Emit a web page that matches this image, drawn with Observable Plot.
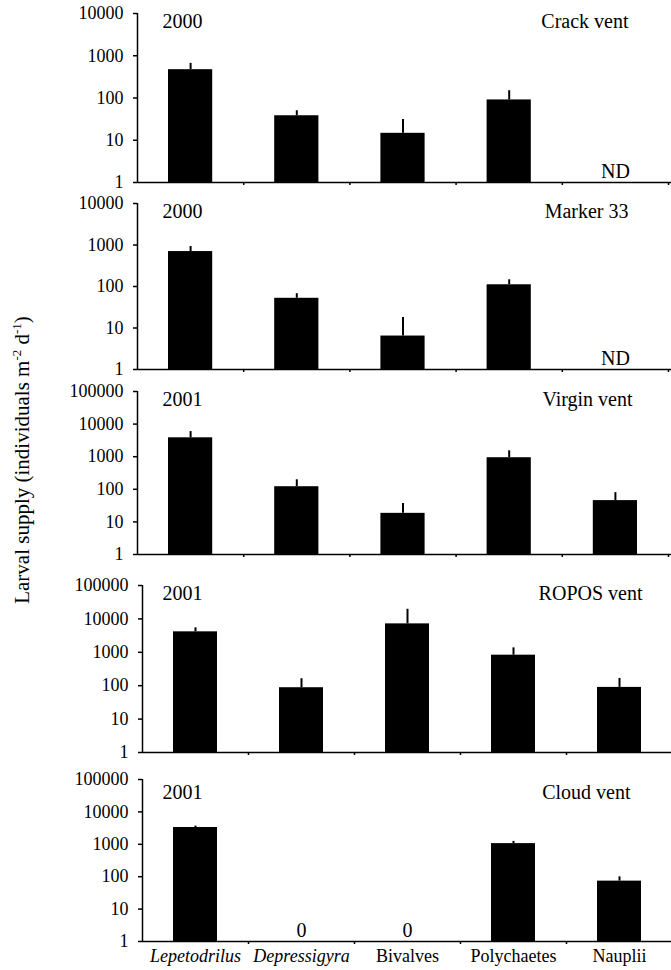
<!DOCTYPE html>
<html>
<head>
<meta charset="utf-8">
<script src="https://cdn.jsdelivr.net/npm/d3@7"></script>
<script src="https://cdn.jsdelivr.net/npm/@observablehq/plot@0.6"></script>
<style>
  html, body { margin: 0; padding: 0; background: #fff; }
  #chart { position: relative; width: 671px; height: 970px; overflow: hidden; font-family: "Liberation Serif", "Times New Roman", serif; }
  .panel { position: absolute; left: 0; }
  #ylabel { position: absolute; left: 22px; top: 460px; transform: translate(-50%, -50%) rotate(-90deg); white-space: nowrap; font-size: 21px; color: #000; }
  #ylabel sup { font-size: 13px; vertical-align: 8px; line-height: 0; }
</style>
</head>
<body>
<div id="chart">
  <div id="ylabel">Larval supply (individuals m<sup>-2</sup> d<sup>-1</sup>)</div>
</div>
<script>
// ---- data ----
const categories = ["Lepetodrilus", "Depressigyra", "Bivalves", "Polychaetes", "Nauplii"];
const italicCategories = ["Lepetodrilus", "Depressigyra"];
const sites = ["Crack vent", "Marker 33", "Virgin vent", "ROPOS vent", "Cloud vent"];
const years = ["2000", "2000", "2001", "2001", "2001"];

// mean supply (null = ND, 0 = zero) and top of error bar
const crackMean  = [468, 38, 14.6, 90, null];
const crackUpper = [660, 50, 31, 149, null];
const markerMean  = [695, 52, 6.4, 110, null];
const markerUpper = [920, 67, 18, 145, null];
const virginMean  = [3800, 120, 18.3, 930, 45];
const virginUpper = [5900, 196, 37, 1510, 79];
const roposMean  = [4100, 87, 7100, 820, 89];
const roposUpper = [5400, 162, 19400, 1360, 165];
const cloudMean  = [3300, 0, 0, 1050, 73];
const cloudUpper = [3650, 0, 0, 1230, 99];

const ticksSmall = [1, 10, 100, 1000, 10000];
const ticksLarge = [1, 10, 100, 1000, 10000, 100000];

const panels = [
  {mean: crackMean,  upper: crackUpper,  ticks: ticksSmall, top: 0,   height: 190, mt: 13, mb: 8,  xr: [137, 668], siteDx: -40, yearDx: 25, yearDy: 0},
  {mean: markerMean, upper: markerUpper, ticks: ticksSmall, top: 190, height: 185, mt: 13, mb: 6,  xr: [137, 668], siteDx: -40, yearDx: 25, yearDy: 0},
  {mean: virginMean, upper: virginUpper, ticks: ticksLarge, top: 375, height: 185, mt: 16, mb: 6,  xr: [137, 668], siteDx: -36, yearDx: 25, yearDy: 0},
  {mean: roposMean,  upper: roposUpper,  ticks: ticksLarge, top: 560, height: 200, mt: 25, mb: 8,  xr: [142, 672], siteDx: -30, yearDx: 20, yearDy: 0},
  {mean: cloudMean,  upper: cloudUpper,  ticks: ticksLarge, top: 760, height: 210, mt: 19, mb: 29, xr: [142, 672], siteDx: -42, yearDx: 20, yearDy: 5}
];

const chart = document.getElementById("chart");

panels.forEach((p, k) => {
  const rows = categories.map((c, i) => ({i, cat: c, mean: p.mean[i], upper: p.upper[i]}));
  const present = rows.filter(d => d.mean != null && d.mean > 0);
  const missing = rows.filter(d => d.mean == null || d.mean === 0);
  const yMax = p.ticks[p.ticks.length - 1];
  const isLast = k === panels.length - 1;

  const marks = [
    Plot.rectY(present, {x1: d => d.i, x2: d => d.i + 1, y1: 1, y2: "mean", fill: "#000", insetLeft: 31, insetRight: 31}),
    Plot.ruleX(present, {x: d => d.i + 0.5, y1: "mean", y2: "upper", stroke: "#000", strokeWidth: 2}),
    Plot.ruleX([0], {stroke: "#000", strokeWidth: 1.5}),
    Plot.ruleY([1], {stroke: "#000", strokeWidth: 1.5}),
    Plot.axisY({ticks: p.ticks, tickFormat: d => String(d), tickSize: 4, tickPadding: 10, label: null, fontSize: 18, strokeWidth: 1.5}),
    Plot.axisX({ticks: [1, 2, 3, 4, 5], tickFormat: () => "", tickSize: 3, label: null, strokeWidth: 1.5}),
    Plot.text(missing, {x: d => d.i + 0.5, y: () => 1, text: d => d.mean === 0 ? "0" : "ND", lineAnchor: "bottom", dy: -5, fontSize: 20}),
    Plot.text([years[k]], {x: () => 0, y: () => yMax, text: d => d, textAnchor: "start", lineAnchor: "top", dx: p.yearDx, dy: p.yearDy, fontSize: 20}),
    Plot.text([sites[k]], {x: () => 5, y: () => yMax, text: d => d, textAnchor: "end", lineAnchor: "top", dx: p.siteDx, dy: p.yearDy, fontSize: 20})
  ];
  if (isLast) {
    marks.push(Plot.axisX({ticks: categories.map((c, i) => i + 0.5).filter((t, i) => italicCategories.includes(categories[i])),
      tickFormat: t => categories[t - 0.5], tickSize: 0, tickPadding: 8, label: null, fontSize: 18, fontStyle: "italic"}));
    marks.push(Plot.axisX({ticks: categories.map((c, i) => i + 0.5).filter((t, i) => !italicCategories.includes(categories[i])),
      tickFormat: t => categories[t - 0.5], tickSize: 0, tickPadding: 8, label: null, fontSize: 18}));
  }

  const svg = Plot.plot({
    width: 671,
    height: p.height,
    marginLeft: p.xr[0],
    marginRight: 0,
    marginTop: p.mt,
    marginBottom: p.mb,
    x: {domain: [0, 5], range: p.xr, axis: null},
    y: {type: "log", domain: [1, yMax], axis: null},
    style: {fontFamily: "'Liberation Serif', 'Times New Roman', serif", fontSize: "18px", background: "transparent", color: "#000", overflow: "visible"},
    marks
  });
  const wrap = document.createElement("div");
  wrap.className = "panel";
  wrap.style.top = p.top + "px";
  wrap.appendChild(svg);
  chart.appendChild(wrap);
});
</script>
</body>
</html>
